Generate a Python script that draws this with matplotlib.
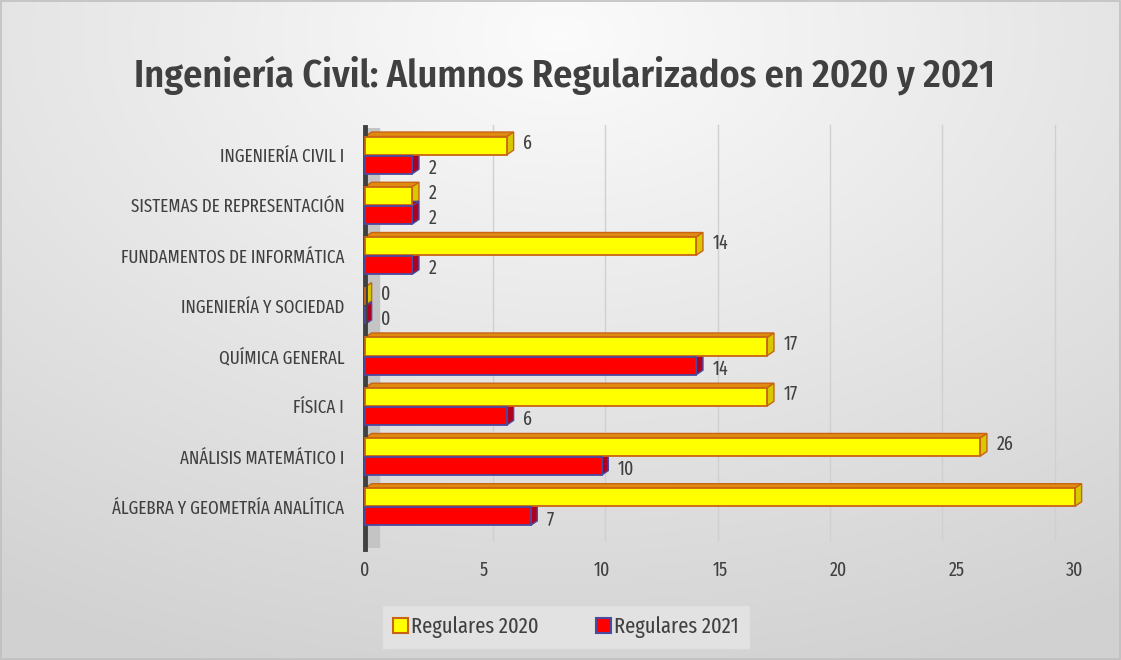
import numpy as np
import matplotlib.pyplot as plt
from matplotlib.patches import Polygon, Rectangle

categories = ["INGENIERÍA CIVIL I", "SISTEMAS DE REPRESENTACIÓN", "FUNDAMENTOS DE INFORMÁTICA",
              "INGENIERÍA Y SOCIEDAD", "QUÍMICA GENERAL", "FÍSICA I",
              "ANÁLISIS MATEMÁTICO I", "ÁLGEBRA Y GEOMETRÍA ANALÍTICA"]
reg2020 = [6, 2, 14, 0, 17, 17, 26, 30]
reg2021 = [2, 2, 2, 0, 14, 6, 10, 7]
series_names = ["Regulares 2020", "Regulares 2021"]
xticks = [0, 5, 10, 15, 20, 25, 30]
title = "Ingeniería Civil: Alumnos Regularizados en 2020 y 2021"

FONT = ['Fira Sans Extra Condensed', 'DejaVu Sans']
plt.rcParams['font.family'] = FONT
TXT = '#404040'

fig = plt.figure(figsize=(11.21, 6.6), dpi=100)

# background gradient
bg = fig.add_axes([0, 0, 1, 1], zorder=-10)
h, w = 220, 374
yy, xx = np.mgrid[0:1:h * 1j, 0:1:w * 1j]
r = np.sqrt(((xx - 0.5) * 1.1) ** 2 + ((yy - 0.05) * 1.0) ** 2)
val = np.clip(0.985 - 0.16 * r, 0.82, 1.0)
bg.imshow(np.dstack([val, val, val]), aspect='auto', extent=[0, 1, 0, 1], origin='upper')
bg.set_xlim(0, 1); bg.set_ylim(0, 1)
bg.axis('off')
bg.add_patch(Rectangle((0.001, 0.002), 0.998, 0.996, fill=False, edgecolor='#c0c0c0', lw=1.2,
                       transform=bg.transAxes))

L, R, T, B = 365, 1075, 128, 548
ax = fig.add_axes([L / 1121, 1 - B / 660, (R - L) / 1121, (B - T) / 660])
ax.set_facecolor('none')
n = len(categories)
ypos = np.arange(n)
ax.set_xlim(0, 30)
ax.set_ylim(n - 1 + 0.82, -0.54)

# back-wall gridlines (perspective shifted)
for v in xticks[1:]:
    g = 0.65 + v * 0.95
    ax.plot([g, g], [-0.6, n - 1 + 0.66], color='#d0d0d0', lw=1, zorder=0, clip_on=False)
# 3D left wall strip
ax.axvspan(0, 0.6, color='#c4c4c4', zorder=0.5)

bh = 0.36
d, e = 0.28, 0.09
specs = [(reg2020, -bh / 2 - 0.01, '#FFFF00', '#C86414', '#d8c800', '#e08a10'),
         (reg2021, bh / 2 + 0.01, '#FF0000', '#4a4aa0', '#b00020', '#c00000')]
for vals, off, fc, ec, side, top in specs:
    for i, v in enumerate(vals):
        yc = ypos[i] + off
        yt, yb = yc - bh / 2, yc + bh / 2
        ax.add_patch(Polygon([(0, yt), (d, yt - e), (v + d, yt - e), (v, yt)], closed=True,
                             facecolor=top, edgecolor=ec, lw=1, zorder=2, clip_on=False))
        ax.add_patch(Polygon([(v, yt), (v + d, yt - e), (v + d, yb - e), (v, yb)], closed=True,
                             facecolor=side, edgecolor=ec, lw=1, zorder=2, clip_on=False))
    ax.barh(ypos + off, vals, height=bh, color=fc, edgecolor=ec, lw=1.3, zorder=3, clip_on=False)

for i in range(n):
    ax.annotate(str(reg2020[i]), (reg2020[i] + d, ypos[i] - bh / 2 - 0.06), xytext=(7, 0),
                textcoords='offset points', ha='left', va='center', fontsize=14, color=TXT,
                zorder=5)
    ax.annotate(str(reg2021[i]), (reg2021[i] + d, ypos[i] + bh / 2 + 0.08), xytext=(7, 0),
                textcoords='offset points', ha='left', va='center', fontsize=14, color=TXT,
                zorder=5)

ax.set_yticks(ypos)
ax.set_yticklabels(categories, fontsize=13.3, color=TXT)
ax.set_xticks(xticks)
ax.set_xticklabels([str(t) for t in xticks], fontsize=14, color=TXT)
ax.tick_params(axis='y', length=0, pad=15)
ax.tick_params(axis='x', length=0, pad=9)
for s in ['top', 'right', 'bottom']:
    ax.spines[s].set_visible(False)
ax.spines['left'].set_color('#404040')
ax.spines['left'].set_linewidth(3.5)
ax.spines['left'].set_bounds(-0.56, n - 1 + 0.84)

fig.text(565 / 1121, 1 - 75 / 660, title, ha='center', va='center', fontsize=27.5,
         color=TXT, fontweight='semibold', family=['Fira Sans Condensed', 'DejaVu Sans'])

handles = [Rectangle((0, 0), 1, 1, facecolor='#FFFF00', edgecolor='#C86414', lw=1.5),
           Rectangle((0, 0), 1, 1, facecolor='#FF0000', edgecolor='#4a4aa0', lw=1.5)]
leg = fig.legend(handles, series_names, loc='center', bbox_to_anchor=(566 / 1121, 1 - 627 / 660),
                 ncol=2, fontsize=16, frameon=True, handlelength=0.65, handleheight=0.65,
                 handletextpad=0.15, columnspacing=2.6, borderpad=0.5, borderaxespad=0,
                 fancybox=False)
leg.get_frame().set_facecolor('#e6e6e6')
leg.get_frame().set_edgecolor('#d6d6d6')
for t in leg.get_texts():
    t.set_color(TXT)

fig.savefig('out.png', dpi=100)
